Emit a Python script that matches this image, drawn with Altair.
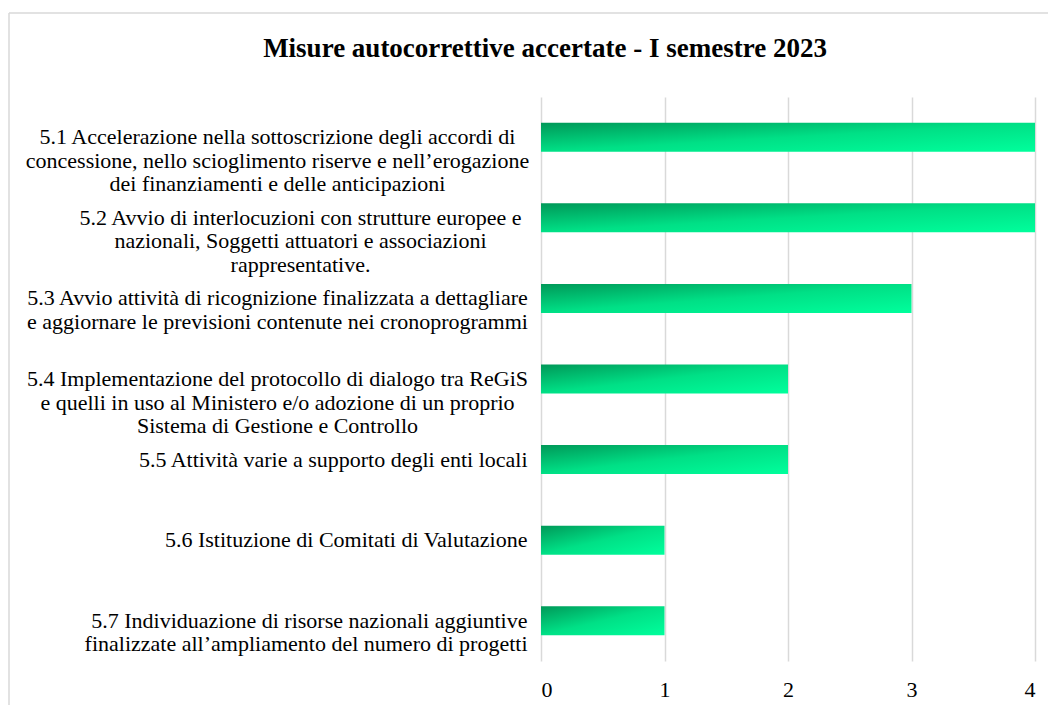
import altair as alt
import pandas as pd

categories = [
    "5.1 Accelerazione nella sottoscrizione degli accordi di\nconcessione, nello scioglimento riserve e nell’erogazione\ndei finanziamenti e delle anticipazioni",
    "5.2 Avvio di interlocuzioni con strutture europee e\nnazionali, Soggetti attuatori e associazioni\nrappresentative.",
    "5.3 Avvio attività di ricognizione finalizzata a dettagliare\ne aggiornare le previsioni contenute nei  cronoprogrammi",
    "5.4 Implementazione del protocollo di dialogo tra ReGiS\ne quelli in uso al Ministero e/o adozione di un proprio\nSistema di Gestione e Controllo",
    "5.5 Attività varie a supporto degli enti locali",
    "5.6 Istituzione di Comitati di Valutazione",
    "5.7  Individuazione di risorse nazionali aggiuntive\nfinalizzate all’ampliamento del numero di progetti",
]
values = [4, 4, 3, 2, 2, 1, 1]
x_ticks = [0, 1, 2, 3, 4]

df = pd.DataFrame({"misura": categories, "valore": values})
frame_df = pd.DataFrame({"k": [0]})

FONT = "Liberation Serif"

gradient = alt.Gradient(
    gradient="linear",
    stops=[
        alt.GradientStop(color="#009858", offset=0),
        alt.GradientStop(color="#00E086", offset=0.5),
        alt.GradientStop(color="#00FF9C", offset=1),
    ],
    x1=0, y1=0, x2=1, y2=1,
)

right_test = "slice(datum.value,0,3) >= '5.5'"
t52 = "slice(datum.value,0,3) == '5.2'"

bars = alt.Chart(df).mark_bar(color=gradient).encode(
    x=alt.X(
        "valore:Q",
        scale=alt.Scale(domain=[0, 4], nice=False),
        axis=alt.Axis(
            values=x_ticks, title=None, domain=False, ticks=False,
            grid=True, gridColor="#d9d9d9", gridWidth=1.5,
            labelFont=FONT, labelFontSize=22, labelColor="#000000",
            labelPadding=18, format="d",
        ),
    ),
    y=alt.Y(
        "misura:N",
        sort=None,
        scale=alt.Scale(paddingInner=0.64, paddingOuter=0.32),
        axis=alt.Axis(
            title=None, domain=False, ticks=False, grid=False,
            labelFont=FONT, labelFontSize=22, labelColor="#000000",
            labelLineHeight=23.5, labelLimit=600,
            labelExpr="split(datum.label, '\\n')",
            labelAlign={"condition": {"test": right_test, "value": "right"}, "value": "center"},
            labelPadding={"condition": [
                {"test": t52, "value": 241},
                {"test": right_test, "value": 14},
            ], "value": 264},
        ),
    ),
)

border_top = alt.Chart(frame_df).mark_rule(
    stroke="#d9d9d9", strokeWidth=1.5
).encode(
    x=alt.value(-532), x2=alt.value(507), y=alt.value(-84),
)
border_left = alt.Chart(frame_df).mark_rule(
    stroke="#d9d9d9", strokeWidth=1.5
).encode(
    x=alt.value(-532), y=alt.value(-84), y2=alt.value(608),
)

chart = alt.layer(border_top, border_left, bars).properties(
    width=494,
    height=564,
    title=alt.TitleParams(
        "Misure autocorrettive accertate - I semestre 2023",
        font=FONT, fontSize=27, fontWeight="bold", color="#000000",
        anchor="middle", dx=-243, baseline="alphabetic", offset=-72,
    ),
    autosize=alt.AutoSizeParams(type="none"),
    padding={"left": 533, "top": 89, "right": 13, "bottom": 44},
).configure_view(stroke=None)

chart.save("out.html", embed_options={"renderer": "svg", "actions": False})
